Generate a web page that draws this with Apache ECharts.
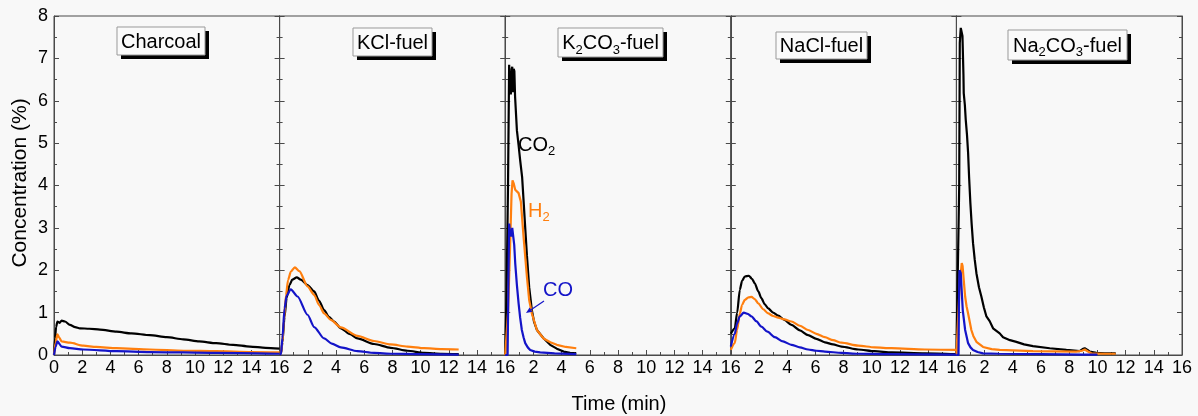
<!DOCTYPE html>
<html><head><meta charset="utf-8">
<script src="https://cdn.jsdelivr.net/npm/echarts@6/dist/echarts.min.js"></script>
<style>html,body{margin:0;padding:0;background:#f8f8f8}#c{width:1198px;height:416px}</style>
</head><body><div id="c"></div>
<script>
// ---------- DATA (time in min, concentration in %) ----------
const panelNames = ['Charcoal', 'KCl-fuel', 'K2CO3-fuel', 'NaCl-fuel', 'Na2CO3-fuel'];
const xTickValues = [0, 2, 4, 6, 8, 10, 12, 14, 16];
const yTickValues = [0, 1, 2, 3, 4, 5, 6, 7, 8];
const seriesNames = ['CO2', 'H2', 'CO'];

const charcoalCO2 = [[0,0],[0.07,0.4],[0.15,0.66],[0.24,0.79],[0.4,0.76],[0.54,0.81],[0.78,0.79],[1.13,0.71],[1.5,0.66],[1.84,0.63],[2.5,0.62],[3.26,0.6],[4.44,0.55],[5.5,0.51],[6.8,0.47],[8,0.42],[9.17,0.37],[10.3,0.32],[11.5,0.28],[12.7,0.24],[13.9,0.2],[15,0.17],[16,0.15]];
const charcoalH2 = [[0,0],[0.12,0.3],[0.24,0.49],[0.35,0.42],[0.54,0.32],[1.13,0.29],[2.08,0.22],[3,0.19],[4.44,0.16],[6.8,0.13],[9.2,0.1],[11.5,0.09],[14,0.07],[16,0.06]];
const charcoalCO = [[0,0],[0.12,0.2],[0.24,0.32],[0.54,0.2],[1.13,0.16],[2.08,0.13],[4.44,0.09],[6.8,0.07],[11.5,0.05],[16,0.03]];

const kclCO2 = [[0,0.04],[0.1,0.05],[0.2,0.3],[0.35,0.9],[0.5,1.35],[0.7,1.65],[0.9,1.78],[1.22,1.83],[1.5,1.78],[1.98,1.65],[2.45,1.5],[2.8,1.28],[3.16,1.06],[3.5,0.9],[3.87,0.79],[4.34,0.63],[5,0.49],[5.52,0.39],[6.7,0.26],[7.88,0.17],[9.07,0.1],[10.25,0.05],[11.5,0.03],[12.7,0.02]];
const kclH2 = [[0,0.02],[0.1,0.03],[0.2,0.3],[0.3,0.8],[0.45,1.4],[0.6,1.77],[0.8,1.97],[1.08,2.07],[1.4,1.98],[1.98,1.62],[2.45,1.42],[2.8,1.18],[3.16,0.98],[3.63,0.83],[4.34,0.65],[5.52,0.45],[6.7,0.33],[7.88,0.25],[9.07,0.2],[10.25,0.16],[11.5,0.14],[12.7,0.13]];
const kclCO = [[0,0.01],[0.1,0.02],[0.2,0.4],[0.35,1.1],[0.5,1.4],[0.79,1.55],[1.27,1.38],[1.98,0.95],[2.45,0.66],[3.16,0.39],[3.7,0.27],[4.34,0.18],[5.52,0.09],[6.7,0.05],[8,0.03],[10,0.02],[12.7,0.01]];

const k2co3CO2 = [[0,0],[0.1,1.5],[0.2,4.0],[0.28,6.85],[0.34,6.3],[0.4,6.15],[0.46,6.75],[0.5,6.8],[0.54,6.2],[0.6,6.75],[0.65,6.7],[0.7,6.1],[0.83,5.3],[0.95,4.95],[1.06,4.6],[1.2,4.2],[1.3,3.66],[1.42,3.0],[1.54,2.35],[1.7,1.6],[1.89,1.06],[2.05,0.78],[2.25,0.59],[2.7,0.4],[3.19,0.24],[3.66,0.15],[4.14,0.08],[4.6,0.05],[5.04,0.04]];
const k2co3H2 = [[0,0],[0.12,0],[0.2,1.0],[0.35,2.6],[0.45,3.8],[0.52,4.12],[0.6,4.05],[0.71,3.9],[0.95,3.82],[1.11,3.62],[1.3,2.8],[1.54,1.85],[1.7,1.3],[1.89,0.98],[2.25,0.59],[2.72,0.39],[3.2,0.3],[3.66,0.24],[4.3,0.19],[5.04,0.16]];
const k2co3CO = [[0,0],[0.17,0],[0.22,1.5],[0.28,3.1],[0.36,2.85],[0.43,2.8],[0.5,3.0],[0.57,3.03],[0.64,2.6],[0.71,2.17],[0.83,1.65],[0.95,1.22],[1.06,0.88],[1.18,0.59],[1.3,0.42],[1.42,0.28],[1.6,0.18],[1.77,0.12],[2.1,0.08],[2.48,0.06],[3.5,0.04],[5.04,0.02]];

const naclCO2 = [[0,0.5],[0.28,0.63],[0.45,1.0],[0.64,1.54],[0.8,1.75],[0.99,1.85],[1.28,1.87],[1.5,1.8],[1.7,1.69],[1.95,1.5],[2.17,1.34],[2.4,1.2],[2.65,1.1],[3.0,1.0],[3.36,0.93],[3.8,0.83],[4.3,0.71],[4.9,0.58],[5.48,0.47],[6.07,0.38],[6.67,0.3],[7.25,0.25],[7.85,0.2],[9.03,0.13],[10.2,0.09],[11.4,0.06],[13.76,0.04],[16,0.02]];
const naclH2 = [[0,0.12],[0.28,0.28],[0.45,0.6],[0.64,0.98],[0.8,1.18],[0.99,1.3],[1.25,1.36],[1.47,1.37],[1.7,1.32],[1.94,1.22],[2.3,1.08],[2.65,0.98],[3.0,0.92],[3.36,0.88],[3.8,0.84],[4.3,0.79],[4.9,0.69],[5.48,0.59],[6.07,0.5],[6.67,0.42],[7.25,0.35],[7.85,0.29],[9.03,0.22],[10.2,0.18],[11.4,0.16],[13.76,0.13],[16,0.12]];
const naclCO = [[0,0.2],[0.28,0.5],[0.45,0.75],[0.64,0.91],[0.92,1.0],[1.2,0.97],[1.47,0.91],[1.8,0.8],[2.17,0.67],[2.6,0.55],[3.12,0.42],[3.7,0.32],[4.3,0.24],[4.9,0.18],[5.48,0.13],[6.07,0.1],[6.67,0.08],[7.85,0.05],[9.03,0.03],[11,0.02],[16,0.01]];

const na2co3CO2 = [[0,0],[0.12,0],[0.2,4.0],[0.24,7.36],[0.31,7.72],[0.38,7.7],[0.43,7.53],[0.5,6.6],[0.52,6.18],[0.6,5.9],[0.66,5.56],[0.75,5.2],[0.83,4.77],[0.9,4.2],[0.99,3.59],[1.08,3.1],[1.18,2.64],[1.3,2.25],[1.42,1.93],[1.6,1.6],[1.77,1.38],[1.95,1.12],[2.13,0.91],[2.36,0.8],[2.6,0.63],[3.07,0.51],[3.31,0.42],[3.8,0.35],[4.25,0.31],[4.8,0.25],[5.43,0.21],[6.62,0.16],[7.8,0.12],[8.74,0.09],[8.95,0.14],[9.1,0.16],[9.3,0.12],[9.45,0.08],[9.93,0.05],[10.5,0.04],[11.3,0.04]];
const na2co3H2 = [[0,0],[0.14,0],[0.21,1.48],[0.3,1.9],[0.38,2.17],[0.44,2.1],[0.5,1.85],[0.62,1.38],[0.72,1.15],[0.83,0.98],[1.06,0.59],[1.2,0.45],[1.42,0.31],[1.89,0.19],[2.5,0.14],[3.07,0.12],[5.43,0.09],[8.5,0.08],[8.9,0.1],[9.1,0.13],[9.3,0.09],[9.57,0.04],[10.5,0.03],[11.3,0.03]];
const na2co3CO = [[0,0],[0.15,0],[0.19,1.5],[0.22,2.0],[0.31,1.93],[0.38,1.5],[0.45,1.06],[0.62,0.59],[0.83,0.28],[1.0,0.18],[1.18,0.12],[1.5,0.07],[1.89,0.04],[3,0.03],[6,0.02],[9,0.01],[10,0.01]];

const panelSeries = [
  [charcoalCO2, charcoalH2, charcoalCO],
  [kclCO2, kclH2, kclCO],
  [k2co3CO2, k2co3H2, k2co3CO],
  [naclCO2, naclH2, naclCO],
  [na2co3CO2, na2co3H2, na2co3CO]
];
const jaggedPanels = [2, 4];

// ---------- STYLE ----------
const FONT = "'Liberation Sans', Arial, sans-serif";
const AXIS = '#4a4a4a';
const COLORS = ['#000000', '#ff7f0e', '#1414c8'];
const LEFT = 54, TOP = 16, HEIGHT = 339, PW = 225.6;

const grids = [], xAxes = [], yAxes = [], series = [];
panelNames.forEach((nm, i) => {
  grids.push({left: LEFT + i * PW, top: TOP, width: PW, height: HEIGHT, show: true,
    borderColor: AXIS, borderWidth: 1, backgroundColor: 'transparent'});
  xAxes.push({type: 'value', gridIndex: i, min: xTickValues[0], max: xTickValues[xTickValues.length - 1],
    interval: xTickValues[1] - xTickValues[0],
    axisLine: {lineStyle: {color: AXIS, width: 1}},
    axisTick: {inside: true, length: 5, lineStyle: {color: AXIS}},
    minorTick: {show: true, splitNumber: 2, length: 3, lineStyle: {color: AXIS}},
    splitLine: {show: false},
    axisLabel: {showMinLabel: i === 0, showMaxLabel: true, fontSize: 18, color: '#000', margin: 4, fontFamily: FONT}
  });
  ['left', 'right'].forEach(pos => {
    yAxes.push({type: 'value', gridIndex: i, position: pos, min: yTickValues[0], max: yTickValues[yTickValues.length - 1],
      interval: yTickValues[1] - yTickValues[0],
      axisLine: {show: true, lineStyle: {color: AXIS, width: 1}},
      axisTick: {show: true, inside: true, length: 5, lineStyle: {color: AXIS}},
      minorTick: {show: true, splitNumber: 2, length: 3, lineStyle: {color: AXIS}},
      splitLine: {show: false},
      axisLabel: {show: i === 0 && pos === 'left', fontSize: 18, color: '#000', margin: 6, fontFamily: FONT}
    });
  });
  panelSeries[i].forEach((d, k) => {
    const jag = jaggedPanels.indexOf(i) >= 0;
    series.push({type: 'line', name: nm + ' ' + seriesNames[k], xAxisIndex: i, yAxisIndex: 2 * i, data: d,
      symbol: 'none', showSymbol: false, smooth: jag ? false : 0.25, smoothMonotone: 'x',
      lineStyle: {color: COLORS[k], width: 2.2}, z: 3 + k, animation: false});
  });
});

// title boxes (annotation boxes)
const boxes = [
  {x: 117, y: 27, w: 88, h: 28, text: '{n|Charcoal}'},
  {x: 353, y: 28, w: 79, h: 28, text: '{n|KCl-fuel}'},
  {x: 558, y: 28, w: 105, h: 29, text: '{n|K}{s|2}{n|CO}{s|3}{n|-fuel}'},
  {x: 776, y: 32, w: 91, h: 27, text: '{n|NaCl-fuel}'},
  {x: 1008, y: 30, w: 119, h: 30, text: '{n|Na}{s|2}{n|CO}{s|3}{n|-fuel}'}
];
function rich(color) {
  return {
    n: {fontSize: 20, fontFamily: FONT, fill: color, color: color, verticalAlign: 'top', lineHeight: 22, height: 22},
    s: {fontSize: 13, fontFamily: FONT, fill: color, color: color, verticalAlign: 'top', lineHeight: 14, padding: [11, 0, 0, 0]}
  };
}
const graphics = [];
boxes.forEach(b => {
  graphics.push({type: 'rect', shape: {x: b.x + 4, y: b.y + 4, width: b.w, height: b.h}, style: {fill: '#000'}, z: 10});
  graphics.push({type: 'rect', shape: {x: b.x, y: b.y, width: b.w, height: b.h}, style: {fill: '#fafafa', stroke: '#999', lineWidth: 1}, z: 11});
  graphics.push({type: 'text', x: b.x + b.w / 2, y: b.y + b.h / 2 + 1, z: 12,
    style: {text: b.text, rich: rich('#000'), align: 'center', verticalAlign: 'middle', textAlign: 'center', textVerticalAlign: 'middle'}});
});
// gas labels in K2CO3 panel
graphics.push({type: 'text', x: 518, y: 134, z: 12, style: {text: '{n|CO}{s|2}', rich: rich('#000'), align: 'left', verticalAlign: 'top'}});
graphics.push({type: 'text', x: 528, y: 200, z: 12, style: {text: '{n|H}{s|2}', rich: rich(COLORS[1]), align: 'left', verticalAlign: 'top'}});
graphics.push({type: 'text', x: 543, y: 279, z: 12, style: {text: '{n|CO}', rich: rich(COLORS[2]), align: 'left', verticalAlign: 'top'}});
// arrow
(function () {
  const x1 = 544, y1 = 301, x2 = 526, y2 = 313;
  const dx = x2 - x1, dy = y2 - y1, L = Math.hypot(dx, dy), ux = dx / L, uy = dy / L;
  const bx = x2 - 6 * ux, by = y2 - 6 * uy, px = -uy, py = ux;
  graphics.push({type: 'line', shape: {x1: x1, y1: y1, x2: bx, y2: by}, style: {stroke: COLORS[2], lineWidth: 1.2}, z: 12});
  graphics.push({type: 'polygon', shape: {points: [[x2, y2], [bx + 2.5 * px, by + 2.5 * py], [bx - 2.5 * px, by - 2.5 * py]]}, style: {fill: COLORS[2]}, z: 12});
})();
// axis titles
graphics.push({type: 'text', x: 20, y: 183, rotation: Math.PI / 2, z: 12,
  style: {text: 'Concentration (%)', font: '21px ' + FONT, fill: '#000', align: 'center', verticalAlign: 'middle', textAlign: 'center', textVerticalAlign: 'middle'}});
graphics.push({type: 'text', x: 619, y: 404, z: 12,
  style: {text: 'Time (min)', font: '20px ' + FONT, fill: '#000', align: 'center', verticalAlign: 'middle', textAlign: 'center', textVerticalAlign: 'middle'}});

const chart = echarts.init(document.getElementById('c'), null, {renderer: 'canvas'});
chart.setOption({
  backgroundColor: '#f8f8f8',
  animation: false,
  grid: grids, xAxis: xAxes, yAxis: yAxes, series: series,
  graphic: {elements: graphics}
});
</script></body></html>
